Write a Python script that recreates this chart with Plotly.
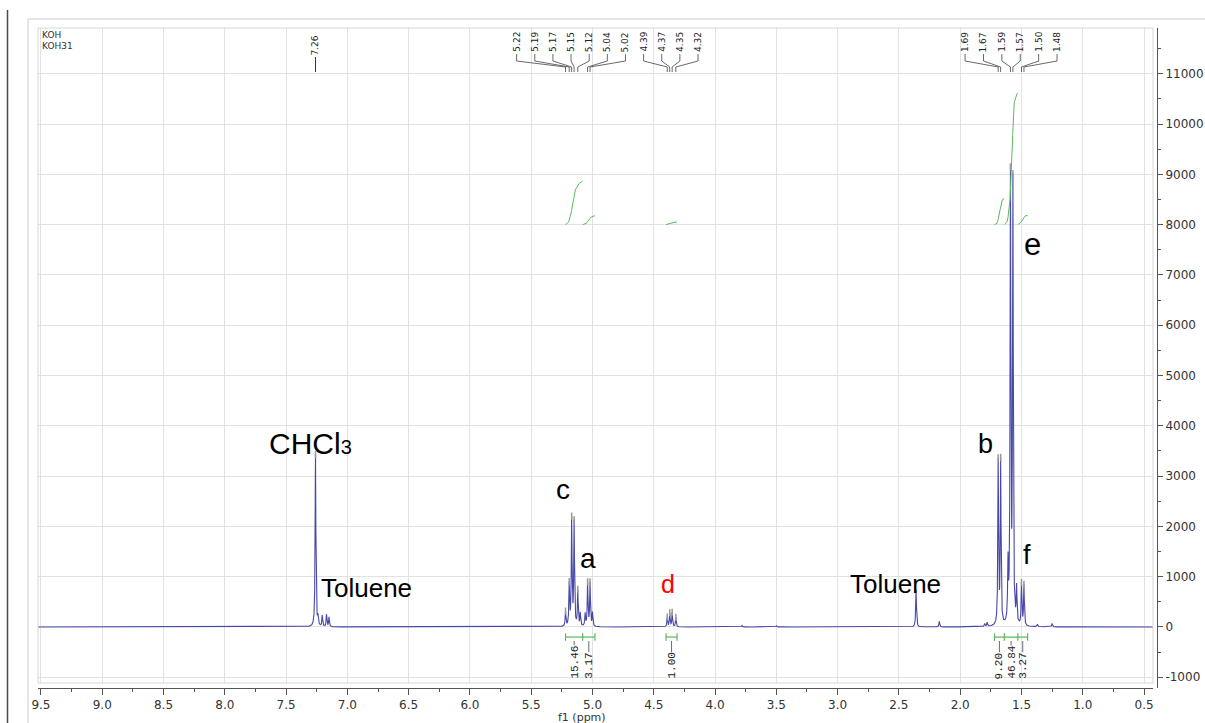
import numpy as np
import plotly.graph_objects as go

# ---------------------------------------------------------------------------
# 1H NMR (CDCl3) resonances: shift (ppm), height (a.u.), half-width (ppm)
# ---------------------------------------------------------------------------
peak_ppm = [7.26, 7.24, 7.205, 7.17, 7.15,
            5.22, 5.19, 5.17, 5.15, 5.12, 5.10,
            5.06, 5.04, 5.02, 5.00,
            4.39, 4.37, 4.35, 4.32,
            3.78, 3.50, 2.36, 2.17,
            1.80, 1.78, 1.69, 1.67,
            1.61, 1.59, 1.57, 1.54,
            1.50, 1.48, 1.37, 1.25]
peak_height = [3430, 170, 220, 240, 190,
               290, 820, 2120, 2050, 700, 260,
               250, 860, 860, 270,
               190, 270, 280, 190,
               30, 30, 730, 110,
               60, 80, 3250, 3250,
               1150, 8850, 8750, 700,
               820, 800, 50, 70]
peak_hw = [0.0035] * len(peak_ppm)

# picked peak labels
single_labels = [7.26]
group1_labels = [5.22, 5.19, 5.17, 5.15, 5.12, 5.04, 5.02, 4.39, 4.37, 4.35, 4.32]
group2_labels = [1.69, 1.67, 1.59, 1.57, 1.50, 1.48]

# integrals: region start/end (ppm) and normalised value
int_start = [5.22, 5.08, 4.40, 1.72, 1.64, 1.53]
int_end = [5.08, 4.98, 4.31, 1.64, 1.53, 1.45]
int_value = [15.46, 3.17, 1.00, 9.20, 46.84, 3.27]

# axis ticks
x_range = [9.524, 0.427]
y_range = [-1213, 11909]
y_tick_vals = list(range(-1000, 11001, 1000))
y_tick_text = [str(v) for v in y_tick_vals]

# ---------------------------------------------------------------------------
# spectrum as a sum of Lorentzian lines
# ---------------------------------------------------------------------------
ppm = np.linspace(x_range[0], x_range[1], 24000)
spec = np.zeros_like(ppm)
for p0, h, w in zip(peak_ppm, peak_height, peak_hw):
    spec += h / (1.0 + ((ppm - p0) / w) ** 2)

BLUE = "#4848a8"
GREEN = "#5cb85c"
GREY = "#999999"
TXT = "#333333"

fig = go.Figure()
fig.add_trace(go.Scatter(x=ppm, y=spec, mode="lines",
                         line=dict(color=BLUE, width=1.1),
                         hoverinfo="skip", showlegend=False))

# integral curves, drawn from an offset of 8000 and scaled by the integral value
INT_BASE = 8000
INT_SCALE = 56
for s, e, v in zip(int_start, int_end, int_value):
    m = (ppm <= s) & (ppm >= e)
    cum = np.cumsum(spec[m])
    frac = cum / cum[-1]
    fig.add_trace(go.Scatter(x=ppm[m], y=INT_BASE + INT_SCALE * v * frac,
                             mode="lines", line=dict(color=GREEN, width=1),
                             hoverinfo="skip", showlegend=False))

# peak-pick markers on the labelled lines
picked = single_labels + group1_labels + group2_labels
picked_y = np.interp(picked, ppm[::-1], spec[::-1])
fig.add_trace(go.Scatter(x=picked, y=picked_y, mode="markers",
                         marker=dict(symbol="line-ns-open", size=5, color=GREY,
                                     line=dict(color=GREY, width=1.5)),
                         hoverinfo="skip", showlegend=False))

# ---------------------------------------------------------------------------
# layout geometry helpers (pixel positions -> paper fraction)
# ---------------------------------------------------------------------------
PAPER_TOP, PAPER_BOTTOM = 28, 688
PAPER_LEFT, PAPER_RIGHT = 38, 1157


def py(pix):
    return (PAPER_BOTTOM - pix) / (PAPER_BOTTOM - PAPER_TOP)


def px(pix):
    return (pix - PAPER_LEFT) / (PAPER_RIGHT - PAPER_LEFT)


shapes = []
annotations = []

# white band between the frame and the x axis, then the frames
shapes.append(dict(type="rect", xref="paper", yref="paper",
                   x0=0, x1=px(1156), y0=0, y1=py(683.5),
                   fillcolor="white", line=dict(width=0), layer="above"))
shapes.append(dict(type="rect", xref="paper", yref="paper",
                   x0=0, x1=px(1153), y0=py(683), y1=1,
                   line=dict(color="#d6d6d6", width=1)))
shapes.append(dict(type="line", xref="paper", yref="paper",
                   x0=px(28), x1=px(1205), y0=py(19), y1=py(19),
                   line=dict(color="#dcdcdc", width=1.5)))
shapes.append(dict(type="line", xref="paper", yref="paper",
                   x0=px(28), x1=px(28), y0=py(19), y1=py(723),
                   line=dict(color="#dcdcdc", width=1.5)))
shapes.append(dict(type="line", xref="paper", yref="paper",
                   x0=px(7.5), x1=px(7.5), y0=py(10), y1=py(723),
                   line=dict(color="#4a4a4a", width=1.5)))

# peak labels along the top
LBL_FONT = dict(family="DejaVu Sans", size=9, color="#222222")
for p in single_labels:
    annotations.append(dict(x=p, y=py(57), xref="x", yref="paper",
                            text=f"{p:.2f}", textangle=-90, showarrow=False,
                            xanchor="center", yanchor="bottom", font=LBL_FONT))
    shapes.append(dict(type="line", xref="x", yref="paper", x0=p, x1=p,
                       y0=py(57), y1=py(72), line=dict(color="#333", width=1)))


def label_group(labels, center, spacing):
    n = len(labels)
    for i, p in enumerate(labels):
        lx = center + (n - 1) / 2 * spacing - i * spacing
        annotations.append(dict(x=lx, y=py(54), xref="x", yref="paper",
                                text=f"{p:.2f}", textangle=-90, showarrow=False,
                                xanchor="center", yanchor="bottom", font=LBL_FONT))
        path = (f"M {lx},{py(54)} L {lx},{py(61)} L {p},{py(67)} L {p},{py(72)}")
        shapes.append(dict(type="path", xref="x", yref="paper", path=path,
                           line=dict(color="#444", width=0.8)))


label_group(group1_labels, 4.879, 0.148)
label_group(group2_labels, 1.585, 0.150)

# integral brackets and values
BR_Y = -200
BR_TICK = 75
groups = [[0, 1], [2], [3, 4, 5]]
for g in groups:
    x0, x1 = int_start[g[0]], int_end[g[-1]]
    shapes.append(dict(type="line", xref="x", yref="y", x0=x0, x1=x1,
                       y0=BR_Y, y1=BR_Y, line=dict(color=GREEN, width=1.2)))
    bounds = [int_start[k] for k in g] + [x1]
    for b in bounds:
        shapes.append(dict(type="line", xref="x", yref="y", x0=b, x1=b,
                           y0=BR_Y - BR_TICK, y1=BR_Y + BR_TICK,
                           line=dict(color=GREEN, width=1.2)))

INT_FONT = dict(family="Liberation Mono", size=11, color="#222222")
for s, e, v in zip(int_start, int_end, int_value):
    cx = (s + e) / 2
    txt = f"{v:.2f}"
    annotations.append(dict(x=cx, y=py(681), xref="x", yref="paper",
                            text=txt, textangle=-90, showarrow=False,
                            xanchor="center", yanchor="bottom", font=INT_FONT))
    top_pix = 681 - 6.7 * len(txt) - 2
    shapes.append(dict(type="line", xref="x", yref="paper", x0=cx, x1=cx,
                       y0=py(641), y1=py(top_pix),
                       line=dict(color="#444", width=0.8)))

# assignment labels
ASSIGN = [
    ("CHCl<span style='font-size:20px'>3</span>", 7.655, 3658, "left", 30, "black"),
    ("Toluene", 7.231, 767, "left", 26, "black"),
    ("c", 5.240, 2724, "center", 28, "black"),
    ("a", 5.036, 1352, "center", 28, "black"),
    ("d", 4.384, 863, "center", 25, "red"),
    ("Toluene", 2.915, 855, "left", 26, "black"),
    ("b", 1.797, 3648, "center", 27, "black"),
    ("e", 1.414, 7614, "center", 31, "black"),
    ("f", 1.455, 1441, "center", 27, "black"),
]
for text, x, y, xa, size, col in ASSIGN:
    annotations.append(dict(x=x, y=y, xref="x", yref="y", text=text,
                            showarrow=False, xanchor=xa, yanchor="middle",
                            font=dict(family="Liberation Sans", size=size, color=col)))

# sample name and axis title
SMALL = dict(family="DejaVu Sans", size=9, color="#333333")
annotations.append(dict(x=px(40), y=py(35), xref="paper", yref="paper", text="KOH",
                        showarrow=False, xanchor="left", yanchor="middle", font=SMALL))
annotations.append(dict(x=px(40), y=py(46), xref="paper", yref="paper", text="KOH31",
                        showarrow=False, xanchor="left", yanchor="middle", font=SMALL))
annotations.append(dict(x=px(582), y=py(717.5), xref="paper", yref="paper",
                        text="f1 (ppm)", showarrow=False, xanchor="center",
                        yanchor="middle",
                        font=dict(family="DejaVu Sans", size=11, color=TXT)))

TICK_FONT = dict(family="DejaVu Sans", size=12, color=TXT)
fig.update_layout(
    width=1205, height=723,
    margin=dict(l=PAPER_LEFT, r=1205 - PAPER_RIGHT, t=PAPER_TOP, b=723 - PAPER_BOTTOM),
    paper_bgcolor="white", plot_bgcolor="white",
    showlegend=False,
    xaxis=dict(range=x_range, domain=[0, px(1153)], anchor="y",
               automargin=False,
               showline=True, linecolor="#555", linewidth=1,
               ticks="outside", ticklen=6, tickcolor="#555",
               tick0=0.5, dtick=0.5, tickformat=".1f", tickfont=TICK_FONT,
               showgrid=True, gridcolor="#e2e2e2", gridwidth=1, zeroline=False,
               minor=dict(ticks="outside", ticklen=3, dtick=0.25, tick0=0.25,
                          tickcolor="#555", showgrid=False)),
    yaxis=dict(range=y_range, domain=[0, 1], side="right", anchor="free",
               position=1, automargin=False,
               showline=True, linecolor="#555", linewidth=1,
               ticks="outside", ticklen=5, tickcolor="#555",
               tickvals=y_tick_vals, ticktext=y_tick_text, tickfont=TICK_FONT,
               showgrid=True, gridcolor="#e2e2e2", gridwidth=1, zeroline=False,
               minor=dict(ticks="outside", ticklen=3, dtick=500, tick0=500,
                          tickcolor="#555", showgrid=False)),
    shapes=shapes,
    annotations=annotations,
)

fig.write_html("out.html")
